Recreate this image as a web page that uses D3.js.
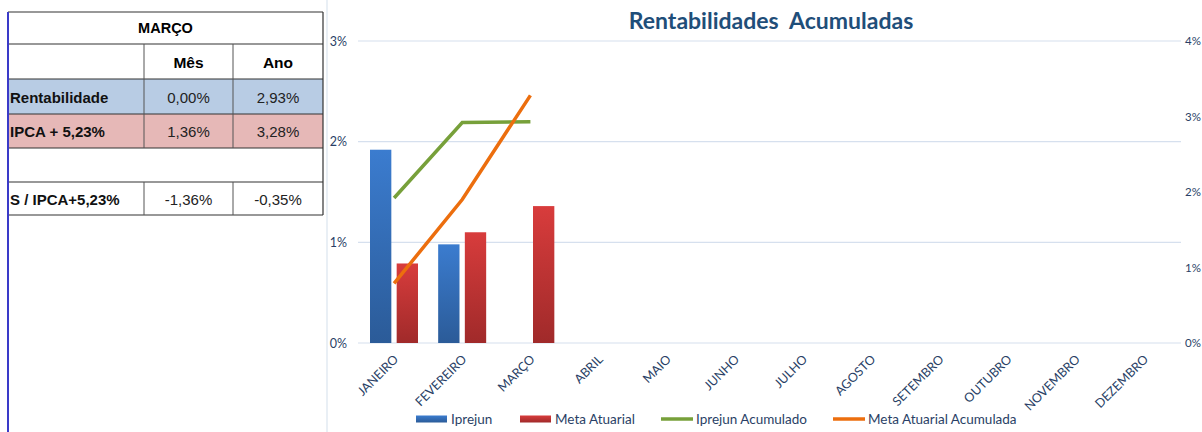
<!DOCTYPE html>
<html>
<head>
<meta charset="utf-8">
<script src="https://cdn.jsdelivr.net/npm/d3@7"></script>
<style>
  body { margin: 0; background: #fff; }
  svg { display: block; }
</style>
</head>
<body>
<div id="chart"></div>
<script>
// ---------------- data ----------------
var months = ["JANEIRO", "FEVEREIRO", "MARÇO", "ABRIL", "MAIO", "JUNHO", "JULHO",
    "AGOSTO", "SETEMBRO", "OUTUBRO", "NOVEMBRO", "DEZEMBRO"];
var iprejun = [1.92, 0.98, 0.00];
var metaAtuarial = [0.79, 1.10, 1.36];
var iprejunAcum = [1.92, 2.92, 2.93];
var metaAcum = [0.79, 1.90, 3.28];
var leftTicks = [0, 1, 2, 3];
var rightTicks = [0, 1, 2, 3, 4];

var tableTitle = "MARÇO";
var tableHeader = ["", "Mês", "Ano"];
var tableLabels = ["Rentabilidade", "IPCA + 5,23%", "", "S / IPCA+5,23%"];
var tableMes = ["0,00%", "1,36%", "", "-1,36%"];
var tableAno = ["2,93%", "3,28%", "", "-0,35%"];
var rowColors = ["#b8cce4", "#e6b8b7", "#fff", "#fff"];

var W = 1202, H = 432;

var svg = d3.select("#chart").append("svg")
    .attr("width", W)
    .attr("height", H);

var defs = svg.append("defs");
function grad(id, top, bottom) {
    var g = defs.append("linearGradient").attr("id", id)
        .attr("x1", 0).attr("y1", 0).attr("x2", 0).attr("y2", 1);
    g.append("stop").attr("offset", "0%").attr("stop-color", top);
    g.append("stop").attr("offset", "100%").attr("stop-color", bottom);
}
grad("gBlue", "#3b7ccf", "#2b5b98");
grad("gRed", "#d83c3c", "#a02a2a");

/******************** TABLE ********************/
var tx = [8, 144, 233, 323];
var ty = [12, 44, 79, 114, 148, 182, 215];
var tbl = svg.append("g").attr("font-family", "Liberation Sans, Arial, sans-serif");

// row fills
tableLabels.forEach(function(l, i) {
    tbl.append("rect")
        .attr("x", tx[0]).attr("y", ty[i + 2])
        .attr("width", tx[3] - tx[0]).attr("height", ty[i + 3] - ty[i + 2])
        .attr("fill", rowColors[i]);
});

// horizontal borders
ty.forEach(function(y) {
    tbl.append("line").attr("x1", tx[0]).attr("x2", tx[3])
        .attr("y1", y).attr("y2", y)
        .attr("stroke", "#333").attr("stroke-width", 1.2);
});
// right border
tbl.append("line").attr("x1", tx[3]).attr("x2", tx[3])
    .attr("y1", ty[0]).attr("y2", ty[6])
    .attr("stroke", "#333").attr("stroke-width", 1.2);
// inner vertical borders (not on title or blank row)
[1, 2].forEach(function(c) {
    [[ty[1], ty[4]], [ty[5], ty[6]]].forEach(function(seg) {
        tbl.append("line").attr("x1", tx[c]).attr("x2", tx[c])
            .attr("y1", seg[0]).attr("y2", seg[1])
            .attr("stroke", "#555").attr("stroke-width", 1);
    });
});

tbl.append("text").attr("x", (tx[0] + tx[3]) / 2).attr("y", (ty[0] + ty[1]) / 2 + 5)
    .attr("text-anchor", "middle").attr("font-size", 14.5).attr("font-weight", "bold")
    .text(tableTitle);
tableHeader.forEach(function(h, c) {
    if (!h) return;
    tbl.append("text").attr("x", (tx[c] + tx[c + 1]) / 2).attr("y", (ty[1] + ty[2]) / 2 + 6)
        .attr("text-anchor", "middle").attr("font-size", 15.5).attr("font-weight", "bold")
        .text(h);
});
tableLabels.forEach(function(l, i) {
    var cy = (ty[i + 2] + ty[i + 3]) / 2 + 6;
    tbl.append("text").attr("x", tx[0] + 2).attr("y", cy)
        .attr("font-size", 15).attr("font-weight", "bold").attr("fill", "#111")
        .text(l);
    tbl.append("text").attr("x", (tx[1] + tx[2]) / 2).attr("y", cy)
        .attr("text-anchor", "middle").attr("font-size", 15).attr("fill", "#222")
        .text(tableMes[i]);
    tbl.append("text").attr("x", (tx[2] + tx[3]) / 2).attr("y", cy)
        .attr("text-anchor", "middle").attr("font-size", 15).attr("fill", "#222")
        .text(tableAno[i]);
});

// blue left rule
svg.append("line").attr("x1", 8).attr("x2", 8).attr("y1", 12).attr("y2", H)
    .attr("stroke", "#3a3ac8").attr("stroke-width", 2);
// chart frame divider
svg.append("line").attr("x1", 327).attr("x2", 327).attr("y1", 0).attr("y2", H)
    .attr("stroke", "#dbe4ef").attr("stroke-width", 1.2);

/******************** CHART ********************/
var axisColor = "#2a3f66";
var font = "Lato, 'Open Sans', sans-serif";

var x = d3.scaleBand().domain(months).range([360, 1178]);
var xs = d3.scaleBand().domain(["iprejun", "meta"]).range([10, 58]).paddingInner(0.2);
var yL = d3.scaleLinear().domain([0, 3]).range([343, 41]);
var yR = d3.scaleLinear().domain([0, 4]).range([343, 41]);

var chart = svg.append("g").attr("font-family", font);

chart.append("text")
    .attr("x", 771).attr("y", 29)
    .attr("text-anchor", "middle")
    .attr("font-size", 23).attr("font-weight", "bold")
    .attr("fill", "#1f4e79")
    .style("white-space", "pre")
    .text("Rentabilidades  Acumuladas");

// gridlines
chart.append("g").selectAll("line").data(leftTicks).join("line")
    .attr("x1", 358).attr("x2", 1181)
    .attr("y1", function(d) { return yL(d); })
    .attr("y2", function(d) { return yL(d); })
    .attr("stroke", "#d6e0ee").attr("stroke-width", 1.2);

// left axis
var leftAxis = d3.axisLeft(yL).tickValues(leftTicks)
    .tickFormat(function(d) { return d + "%"; }).tickSize(0).tickPadding(0);
var gl = chart.append("g").attr("transform", "translate(347,0)").call(leftAxis);
gl.select(".domain").remove();
gl.selectAll("text").attr("fill", axisColor).attr("font-size", 12.5).attr("font-family", font);

// right axis
var rightAxis = d3.axisRight(yR).tickValues(rightTicks)
    .tickFormat(function(d) { return d + "%"; }).tickSize(0).tickPadding(0);
var gr = chart.append("g").attr("transform", "translate(1185,0)").call(rightAxis);
gr.select(".domain").remove();
gr.selectAll("text").attr("fill", axisColor).attr("font-size", 11.5).attr("font-family", font);

// x axis labels
var xAxis = d3.axisBottom(x).tickSize(0).tickPadding(0);
var gx = chart.append("g").attr("transform", "translate(0,353)").call(xAxis);
gx.select(".domain").remove();
gx.selectAll("text")
    .attr("fill", axisColor).attr("font-size", 12.5).attr("font-family", font)
    .attr("text-anchor", "end")
    .attr("dy", "0.35em")
    .attr("transform", "translate(2,4) rotate(-45)");

// bars
chart.append("g").selectAll("rect").data(iprejun).join("rect")
    .attr("x", function(d, i) { return x(months[i]) + xs("iprejun"); })
    .attr("width", xs.bandwidth())
    .attr("y", function(d) { return yL(d); })
    .attr("height", function(d) { return yL(0) - yL(d); })
    .attr("fill", "url(#gBlue)");
chart.append("g").selectAll("rect").data(metaAtuarial).join("rect")
    .attr("x", function(d, i) { return x(months[i]) + xs("meta"); })
    .attr("width", xs.bandwidth())
    .attr("y", function(d) { return yL(d); })
    .attr("height", function(d) { return yL(0) - yL(d); })
    .attr("fill", "url(#gRed)");

// lines (secondary axis)
var line = d3.line()
    .x(function(d, i) { return x(months[i]) + x.bandwidth() / 2; })
    .y(function(d) { return yR(d); });
chart.append("path").datum(iprejunAcum).attr("d", line)
    .attr("fill", "none").attr("stroke", "#77a03a").attr("stroke-width", 3.5);
chart.append("path").datum(metaAcum).attr("d", line)
    .attr("fill", "none").attr("stroke", "#ec6e0e").attr("stroke-width", 3.5);

// legend
var legend = [
    { name: "Iprejun", color: "url(#gBlue)", type: "bar", x: 416 },
    { name: "Meta Atuarial", color: "url(#gRed)", type: "bar", x: 520 },
    { name: "Iprejun Acumulado", color: "#77a03a", type: "line", x: 661 },
    { name: "Meta Atuarial Acumulada", color: "#ec6e0e", type: "line", x: 833 }
];
var lg = chart.append("g").selectAll("g").data(legend).join("g")
    .attr("transform", function(d) { return "translate(" + d.x + ",419)"; });
lg.filter(function(d) { return d.type === "bar"; }).append("rect")
    .attr("x", 0).attr("y", -3.5).attr("width", 31).attr("height", 7)
    .attr("fill", function(d) { return d.color; });
lg.filter(function(d) { return d.type === "line"; }).append("line")
    .attr("x1", 0).attr("x2", 32).attr("y1", 0).attr("y2", 0)
    .attr("stroke", function(d) { return d.color; }).attr("stroke-width", 3.5);
lg.append("text")
    .attr("x", 35).attr("y", 5)
    .attr("font-size", 13.5).attr("fill", "#2a3f66")
    .text(function(d) { return d.name; });
</script>
</body>
</html>
